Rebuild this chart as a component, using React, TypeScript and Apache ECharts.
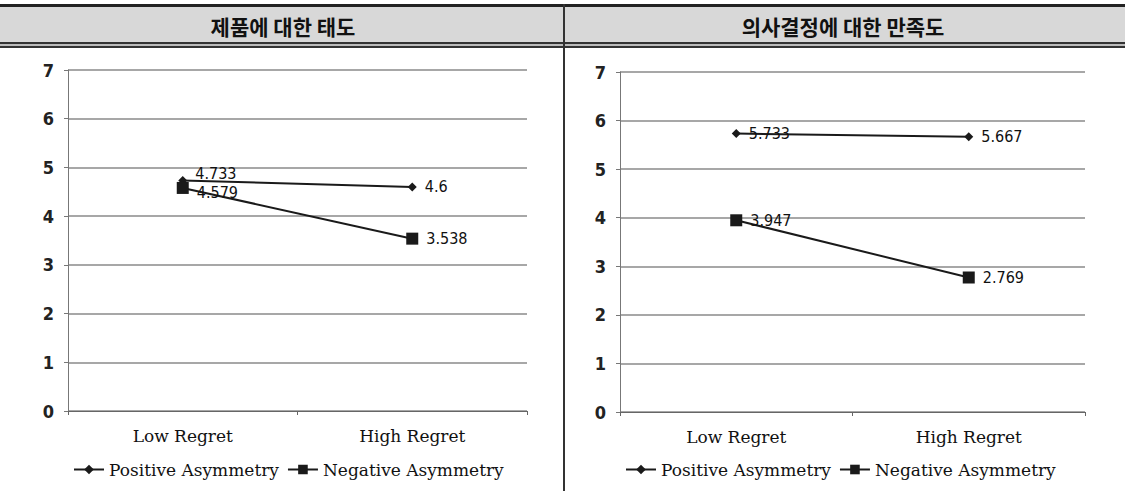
import React, { useEffect, useRef } from "react";
import * as echarts from "echarts";

const categories = ["Low Regret", "High Regret"];
const seriesNames = ["Positive Asymmetry", "Negative Asymmetry"];
const leftTitle = "제품에 대한 태도";
const rightTitle = "의사결정에 대한 만족도";
const leftPositive = [4.733, 4.6];
const leftNegative = [4.579, 3.538];
const rightPositive = [5.733, 5.667];
const rightNegative = [3.947, 2.769];
const yTicks = { min: 0, max: 7, interval: 1 };

const numFont = "'DejaVu Sans Condensed', 'Liberation Sans Narrow', 'Roboto Condensed', 'DejaVu Sans', sans-serif";
const serifFont = "'DejaVu Serif', 'Liberation Serif', serif";

function makeSeries(name: string, values: number[], idx: number, positive: boolean, firstOffset: number) {
  return {
    type: "line",
    name,
    xAxisIndex: idx,
    yAxisIndex: idx,
    data: values.map((v, i) => (i === 0 && firstOffset !== 0 ? { value: v, label: { offset: [0, firstOffset] } } : v)),
    symbol: positive ? "diamond" : "rect",
    symbolSize: positive ? 9 : 12,
    lineStyle: { color: "#1a1a1a", width: 2 },
    itemStyle: { color: "#1a1a1a" },
    label: {
      show: true,
      position: "right",
      distance: 8,
      fontFamily: numFont,
      fontSize: 16,
      color: "#111",
      formatter: (p: any) => String(p.value),
    },
  };
}

export default function App() {
  const ref = useRef<HTMLDivElement>(null);
  useEffect(() => {
    if (!ref.current) return;
    const chart = echarts.init(ref.current, undefined, { renderer: "svg" });
    const xAxisBase = {
      type: "category",
      data: categories,
      boundaryGap: true,
      axisLine: { show: true, lineStyle: { color: "#666", width: 1 } },
      axisTick: { show: true, length: 4, lineStyle: { color: "#666" } },
      axisLabel: { fontFamily: serifFont, fontSize: 17, color: "#111", margin: 16 },
    };
    const yAxisBase = {
      type: "value",
      min: yTicks.min,
      max: yTicks.max,
      interval: yTicks.interval,
      axisLine: { show: true, lineStyle: { color: "#777", width: 1 } },
      axisTick: { show: true, length: 4, lineStyle: { color: "#777" } },
      splitLine: { show: true, lineStyle: { color: "#8a8a8a", width: 1.5 } },
      axisLabel: { fontFamily: numFont, fontSize: 18, fontWeight: "bold", color: "#222", margin: 14 },
    };
    const legendBase = {
      data: seriesNames,
      bottom: 8,
      itemWidth: 30,
      itemHeight: 12,
      itemGap: 8,
      textStyle: { fontFamily: serifFont, fontSize: 17, color: "#111" },
    };
    chart.setOption({
      animation: false,
      backgroundColor: "#fff",
      grid: [
        { left: 68, top: 70, width: 459, height: 341 },
        { left: 620, top: 72, width: 465, height: 340 },
      ],
      xAxis: [
        { ...xAxisBase, gridIndex: 0 },
        { ...xAxisBase, gridIndex: 1 },
      ],
      yAxis: [
        { ...yAxisBase, gridIndex: 0 },
        { ...yAxisBase, gridIndex: 1 },
      ],
      legend: [
        { ...legendBase, left: 68 },
        { ...legendBase, left: 620 },
      ],
      series: [
        makeSeries(seriesNames[0], leftPositive, 0, true, -7),
        makeSeries(seriesNames[1], leftNegative, 0, false, 5),
        makeSeries(seriesNames[0], rightPositive, 1, true, 0),
        makeSeries(seriesNames[1], rightNegative, 1, false, 0),
      ],
      graphic: [
        { type: "rect", shape: { x: 0, y: 7, width: 1125, height: 35 }, style: { fill: "#d8d8d8" }, z: 0 },
        { type: "rect", shape: { x: 0, y: 4, width: 1125, height: 3 }, style: { fill: "#222" }, z: 1 },
        { type: "rect", shape: { x: 0, y: 42, width: 1125, height: 2 }, style: { fill: "#333" }, z: 1 },
        { type: "rect", shape: { x: 0, y: 44, width: 1125, height: 2 }, style: { fill: "#bbb" }, z: 1 },
        { type: "rect", shape: { x: 0, y: 46, width: 1125, height: 2 }, style: { fill: "#333" }, z: 1 },
        { type: "rect", shape: { x: 563, y: 4, width: 2, height: 487 }, style: { fill: "#333" }, z: 2 },
        {
          type: "text",
          x: 283,
          y: 26,
          style: {
            text: leftTitle,
            fontFamily: "'Noto Sans CJK KR', sans-serif",
            fontWeight: "bold",
            fontSize: 21,
            fill: "#111",
            align: "center",
            verticalAlign: "middle",
          },
          z: 3,
        },
        {
          type: "text",
          x: 843,
          y: 26,
          style: {
            text: rightTitle,
            fontFamily: "'Noto Sans CJK KR', sans-serif",
            fontWeight: "bold",
            fontSize: 21,
            fill: "#111",
            align: "center",
            verticalAlign: "middle",
          },
          z: 3,
        },
      ],
    });
    return () => chart.dispose();
  }, []);
  return (
    <div
      ref={ref}
      style={{ position: "fixed", left: 0, top: 0, width: 1125, height: 491, background: "#fff" }}
    />
  );
}
